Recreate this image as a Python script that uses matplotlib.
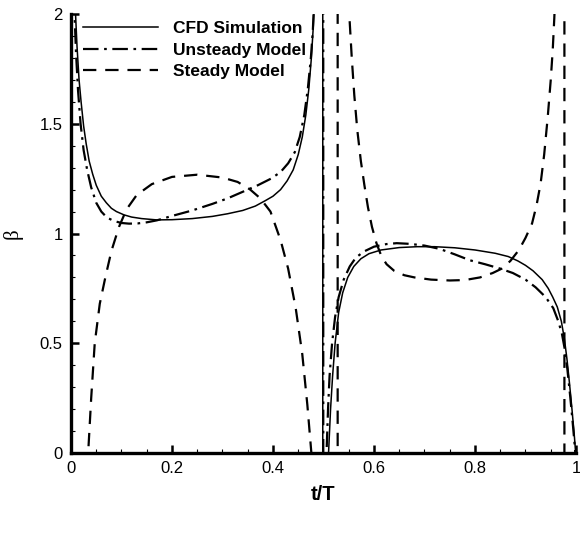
import matplotlib
matplotlib.use("Agg")
import matplotlib.pyplot as plt
from matplotlib.ticker import MultipleLocator, FormatStrFormatter

plt.rcParams['font.family'] = ['Liberation Sans', 'DejaVu Sans']

# CFD simulation (solid); values beyond 0..2 make the jumps at t ~ 0.5
cfd_t = [0.006, 0.009, 0.012, 0.016, 0.020, 0.025, 0.030, 0.036, 0.043, 0.050,
         0.060, 0.070, 0.080, 0.090, 0.105, 0.120, 0.140, 0.170, 0.200, 0.240,
         0.280, 0.310, 0.340, 0.365, 0.385, 0.400, 0.415, 0.428, 0.440, 0.450,
         0.458, 0.465, 0.471, 0.476, 0.480, 0.483, 0.490, 0.4985, 0.4986, 0.505,
         0.510, 0.514, 0.518, 0.523, 0.530, 0.538, 0.548, 0.560, 0.574, 0.590,
         0.614, 0.650, 0.686, 0.720, 0.760, 0.800, 0.840, 0.866, 0.885, 0.900,
         0.915, 0.933, 0.945, 0.954, 0.963, 0.971, 0.977, 0.982, 0.987, 0.992,
         0.997, 1.000]
cfd_b = [2.20, 2.00, 1.85, 1.70, 1.60, 1.49, 1.41, 1.33, 1.27, 1.22,
         1.17, 1.14, 1.115, 1.10, 1.085, 1.075, 1.068, 1.062, 1.063, 1.068,
         1.078, 1.090, 1.105, 1.125, 1.150, 1.170, 1.200, 1.240, 1.290, 1.360,
         1.440, 1.540, 1.660, 1.800, 1.950, 2.100, 4.0, 20.0, -20.0, -0.5,
         0.0, 0.20, 0.35, 0.50, 0.64, 0.73, 0.80, 0.85, 0.885, 0.908,
         0.925, 0.936, 0.940, 0.940, 0.935, 0.925, 0.910, 0.895, 0.875, 0.855,
         0.830, 0.790, 0.750, 0.710, 0.665, 0.600, 0.520, 0.430, 0.320, 0.200,
         0.070, -0.02]

# Unsteady model (dash-dot)
uns_t = [0.004, 0.007, 0.010, 0.014, 0.019, 0.025, 0.032, 0.040, 0.050, 0.060,
         0.071, 0.085, 0.100, 0.115, 0.132, 0.150, 0.170, 0.200, 0.240, 0.280,
         0.310, 0.340, 0.370, 0.396, 0.415, 0.430, 0.443, 0.453, 0.462, 0.469,
         0.475, 0.479, 0.482, 0.490, 0.4995, 0.4996, 0.503, 0.506, 0.509, 0.512,
         0.517, 0.523, 0.530, 0.540, 0.552, 0.564, 0.580, 0.600, 0.625, 0.645,
         0.670, 0.700, 0.730, 0.760, 0.790, 0.820, 0.850, 0.875, 0.900, 0.920,
         0.940, 0.955, 0.965, 0.972, 0.978, 0.983, 0.988, 0.993, 0.998, 1.000]
uns_b = [2.20, 2.00, 1.82, 1.65, 1.50, 1.38, 1.29, 1.21, 1.14, 1.10,
         1.073, 1.057, 1.048, 1.045, 1.046, 1.051, 1.060, 1.080, 1.105, 1.135,
         1.160, 1.190, 1.220, 1.250, 1.280, 1.320, 1.370, 1.440, 1.540, 1.660,
         1.800, 1.930, 2.100, 5.0, 20.0, -20.0, -0.3, 0.0, 0.20, 0.35,
         0.50, 0.62, 0.71, 0.79, 0.85, 0.89, 0.918, 0.940, 0.952, 0.956,
         0.953, 0.945, 0.930, 0.905, 0.878, 0.860, 0.840, 0.820, 0.790, 0.755,
         0.710, 0.660, 0.600, 0.545, 0.470, 0.380, 0.270, 0.150, 0.020, -0.05]

# Steady model (dashed)
std_t = [0.000, 0.030, 0.034, 0.040, 0.047, 0.057, 0.068, 0.080, 0.095, 0.110,
         0.130, 0.160, 0.200, 0.250, 0.300, 0.330, 0.355, 0.375, 0.395, 0.415,
         0.430, 0.445, 0.458, 0.468, 0.476, 0.480, 0.528, 0.5281, 0.535, 0.545,
         0.551, 0.556, 0.561, 0.567, 0.574, 0.581, 0.588, 0.596, 0.605, 0.615,
         0.625, 0.640, 0.660, 0.680, 0.713, 0.750, 0.780, 0.810, 0.835, 0.853,
         0.870, 0.887, 0.900, 0.913, 0.922, 0.930, 0.937, 0.944, 0.950, 0.954,
         0.957, 0.960, 0.977, 0.9771, 1.000]
std_b = [-1.5, -0.2, 0.0, 0.25, 0.50, 0.68, 0.80, 0.92, 1.03, 1.11,
         1.175, 1.225, 1.258, 1.268, 1.255, 1.235, 1.200, 1.160, 1.100, 0.970,
         0.840, 0.660, 0.450, 0.220, 0.0, -0.4, -20.0, 20.0, 5.0, 2.60,
         2.00, 1.80, 1.63, 1.47, 1.33, 1.22, 1.12, 1.03, 0.955, 0.895,
         0.860, 0.830, 0.810, 0.800, 0.790, 0.786, 0.788, 0.800, 0.820, 0.840,
         0.875, 0.925, 0.980, 1.046, 1.130, 1.229, 1.360, 1.530, 1.700, 1.840,
         1.980, 2.150, 20.0, -20.0, -1.0]

fig = plt.figure(figsize=(5.8, 5.34), dpi=100)
ax = fig.add_axes([0.1224, 0.1517, 0.8707, 0.822])

ax.plot(cfd_t, cfd_b, color='black', lw=1.1, ls='-', label='CFD Simulation')
ax.plot(uns_t, uns_b, color='black', lw=1.6, ls=(0, (7, 2.5, 1.2, 2.5)),
        label='Unsteady Model')
ax.plot(std_t, std_b, color='black', lw=1.6, ls=(0, (6, 4)), label='Steady Model')

ax.set_xlim(0, 1)
ax.set_ylim(0, 2)

ax.xaxis.set_major_locator(MultipleLocator(0.2))
ax.xaxis.set_minor_locator(MultipleLocator(0.05))
ax.yaxis.set_major_locator(MultipleLocator(0.5))
ax.yaxis.set_minor_locator(MultipleLocator(0.1))
ax.xaxis.set_major_formatter(FormatStrFormatter('%g'))
ax.yaxis.set_major_formatter(FormatStrFormatter('%g'))

ax.spines['top'].set_visible(False)
ax.spines['right'].set_visible(False)
ax.spines['left'].set_linewidth(2.4)
ax.spines['bottom'].set_linewidth(2.4)

ax.tick_params(which='major', direction='in', length=6, width=1.8,
               labelsize=12, pad=6)
ax.tick_params(which='minor', direction='in', length=3, width=0.8)

ax.set_xlabel('t/T', fontsize=14.5, fontweight='bold', labelpad=6)
ax.set_ylabel('β', fontsize=15, family='Liberation Serif', labelpad=12)

leg = ax.legend(loc='upper left', bbox_to_anchor=(0.017, 0.992), frameon=False,
                handlelength=4.3, handletextpad=0.86, labelspacing=0.36,
                borderaxespad=0.0, borderpad=0.2,
                prop={'weight': 'bold', 'size': 12.5})

fig.savefig('out.png', dpi=100)
